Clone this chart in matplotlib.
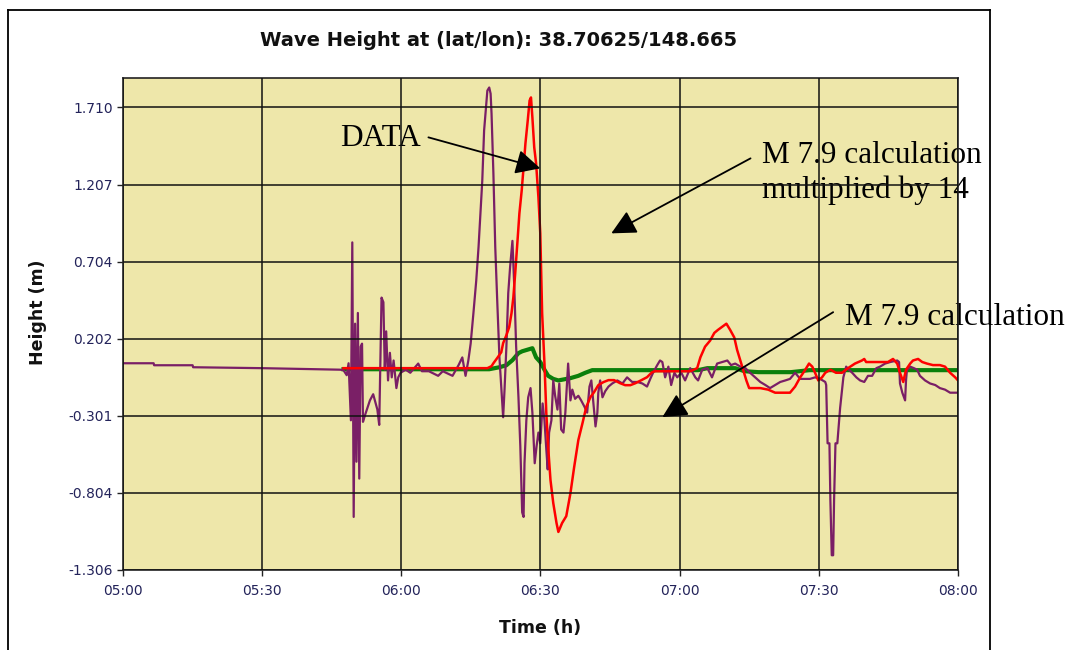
import matplotlib.pyplot as plt
from matplotlib.lines import Line2D

# time in minutes after 05:00, height in metres
purple_t = [0, 6.7, 6.8, 15.1, 15.2, 30, 46.9, 47.6, 48.3, 48.7, 49.2, 49.5, 49.8, 50.1,
            50.4, 50.7, 51.0, 51.3, 51.6, 51.8, 52.2, 53.3, 54.0, 54.9, 55.3, 55.8, 56.2,
            56.5, 56.8, 57.2, 57.6, 58.0, 58.4, 59.0, 59.4, 59.9, 61, 62, 63.7, 64.5, 66,
            68, 69, 71.1, 72.4, 73.2, 73.9, 74.5, 75.0, 75.6, 76.2, 76.7, 77.1, 77.5, 77.9,
            78.6, 79.0, 79.3, 79.5, 79.9, 80.3, 80.7, 81.2, 81.6, 82.0, 82.3, 82.7, 83.1,
            83.5, 84.0, 84.4, 84.8, 85.3, 85.7, 86.1, 86.4, 86.6, 87.0, 87.4, 87.9, 88.3,
            88.8, 89.2, 89.6, 90.0, 90.5, 90.9, 91.3, 91.6, 91.9, 92.4, 92.8, 93.2, 93.7,
            94.1, 94.5, 95.0, 95.4, 95.8, 96.0, 96.5, 96.9, 97.5, 98.2, 98.8, 99.5, 100.1,
            100.6, 101.0, 101.4, 101.9, 102.3, 102.5, 102.9, 103.4, 104.0, 104.7, 105.5,
            106.6, 107.7, 108.7, 109.8, 110.9, 112.0, 113.0, 113.7, 114.3, 115.2, 115.8,
            116.3, 116.9, 117.6, 118.2, 118.9, 119.5, 120.4, 121.2, 122.3, 123.4, 124.0,
            124.9, 126.0, 127.0, 128.1, 129.2, 130.3, 131.1, 132.0, 133.1, 134.2, 135.2,
            136.3, 137.4, 138.5, 139.5, 140.6, 141.7, 142.8, 143.8, 144.9, 146.0, 148.1,
            149.2, 150.3, 151.4, 151.6, 151.9, 152.3, 152.5, 152.8, 153.1, 153.3, 153.6,
            154.0, 154.6, 155.3, 155.9, 156.5, 157.2, 158.1, 158.9, 159.8, 160.6, 161.5,
            162.4, 163.2, 164.3, 165.4, 166.9, 167.3, 167.5, 168.0, 168.6, 168.8, 169.0,
            169.7, 170.5, 171.2, 171.8, 172.9, 174.0, 175.1, 176.1, 177.2, 178.3, 180.0]
purple_h = [0.042, 0.042, 0.029, 0.029, 0.016, 0.010, 0.000, -0.003, -0.036, 0.042, -0.33,
            0.83, -0.96, 0.30, -0.60, 0.37, -0.71, 0.15, 0.17, -0.34, -0.30, -0.20, -0.16,
            -0.26, -0.36, 0.47, 0.44, 0.00, 0.25, -0.07, 0.11, -0.05, 0.06, -0.12, -0.05,
            -0.02, 0.00, -0.02, 0.04, -0.01, -0.01, -0.04, -0.01, -0.04, 0.03, 0.08, -0.04,
            0.06, 0.17, 0.37, 0.58, 0.80, 1.02, 1.23, 1.56, 1.82, 1.84, 1.80, 1.67, 1.28,
            0.80, 0.47, 0.08, -0.11, -0.31, -0.13, 0.15, 0.50, 0.67, 0.84, 0.54, 0.15,
            -0.18, -0.50, -0.93, -0.96, -0.61, -0.33, -0.18, -0.12, -0.28, -0.61, -0.50,
            -0.41, -0.48, -0.22, -0.33, -0.52, -0.65, -0.41, -0.33, -0.07, -0.17, -0.26,
            -0.09, -0.39, -0.41, -0.28, -0.07, 0.04, -0.20, -0.13, -0.19, -0.17, -0.20,
            -0.24, -0.28, -0.11, -0.07, -0.20, -0.37, -0.28, -0.15, -0.07, -0.18, -0.14,
            -0.11, -0.09, -0.07, -0.09, -0.05, -0.08, -0.08, -0.09, -0.11, -0.06, -0.02,
            0.03, 0.06, 0.05, -0.05, 0.02, -0.10, -0.02, -0.05, -0.02, -0.07, 0.01, -0.05,
            -0.07, 0.00, 0.01, -0.05, 0.04, 0.05, 0.06, 0.03, 0.04, 0.02, 0.01, -0.02,
            -0.05, -0.08, -0.10, -0.12, -0.10, -0.08, -0.07, -0.06, -0.02, -0.06, -0.06,
            -0.05, -0.06, -0.08, -0.10, -0.48, -0.48, -0.85, -1.21, -1.21, -0.85, -0.48,
            -0.48, -0.25, -0.05, 0.02, 0.00, -0.02, -0.05, -0.07, -0.08, -0.04, -0.04,
            0.01, 0.02, 0.04, 0.05, 0.06, 0.05, -0.09, -0.15, -0.20, -0.07, 0.00, 0.02,
            0.01, 0.00, -0.04, -0.07, -0.09, -0.10, -0.12, -0.13, -0.15, -0.15]

red_t = [47.6, 78.6, 79.5, 79.9, 80.7, 81.6, 82.0, 82.7, 83.3, 83.8, 84.2, 84.6, 85.1, 85.5,
         86.0, 86.4, 86.8, 87.3, 87.7, 88.0, 88.3, 88.7, 89.1, 89.6, 90.0, 90.4, 90.9,
         91.3, 91.7, 92.2, 92.8, 93.5, 93.9, 94.7, 95.6, 96.5, 97.3, 98.2, 99.1, 99.9,
         100.8, 101.6, 102.5, 103.6, 104.7, 105.9, 107.2, 108.3, 109.4, 110.5, 111.8,
         113.0, 114.1, 114.8, 118.0, 122.3, 123.8, 124.5, 125.5, 126.6, 127.5, 128.3,
         129.2, 130.1, 130.9, 131.8, 132.4, 133.1, 133.7, 134.4, 135.0, 137.4, 139.1,
         140.6, 143.8, 144.9, 146.0, 147.1, 147.9, 148.6, 149.2, 149.9, 150.7, 151.4,
         152.5, 153.7, 155.0, 156.3, 157.8, 159.3, 159.8, 160.2, 161.5, 163.2, 164.9,
         166.0, 166.9, 167.5, 168.2, 168.8, 169.7, 170.3, 171.4, 172.3, 173.3, 174.6,
         176.1, 177.2, 178.3, 179.4, 180.0]
red_h = [0.010, 0.010, 0.023, 0.042, 0.075, 0.114, 0.173, 0.225, 0.277, 0.368, 0.472, 0.629,
         0.843, 1.019, 1.169, 1.319, 1.475, 1.625, 1.755, 1.775, 1.645, 1.449, 1.345, 1.124,
         0.889, 0.368, 0.042, -0.283, -0.505, -0.720, -0.870, -1.000, -1.058, -1.000,
         -0.955, -0.805, -0.635, -0.459, -0.348, -0.244, -0.179, -0.146, -0.101, -0.081,
         -0.068, -0.068, -0.088, -0.101, -0.101, -0.088, -0.068, -0.049, -0.016, -0.010,
         -0.010, -0.010, 0.010, 0.081, 0.15, 0.19, 0.24, 0.26, 0.28, 0.30, 0.26, 0.21,
         0.13, 0.06, 0.00, -0.07, -0.12, -0.12, -0.13, -0.15, -0.15, -0.11, -0.05, 0.00,
         0.04, 0.02, -0.02, -0.07, -0.05, -0.02, 0.00, -0.02, -0.02, 0.01, 0.04, 0.06,
         0.07, 0.05, 0.05, 0.05, 0.05, 0.07, 0.04, -0.02, -0.08, 0.00, 0.04, 0.06, 0.07,
         0.05, 0.04, 0.03, 0.03, 0.02, -0.02, -0.05, -0.07]

green_t = [47.6, 79.0, 81.2, 82.7, 84.0, 85.3, 86.1, 88.3, 89.1, 90.0, 90.9, 91.7, 92.8,
           93.9, 96.5, 98.2, 99.7, 101.2, 124.0, 126.0, 132.0, 134.0, 137.0, 144.0, 148.0,
           180.0]
green_h = [0.003, 0.003, 0.016, 0.029, 0.062, 0.108, 0.12, 0.14, 0.08, 0.05, 0.00, -0.04,
           -0.06, -0.07, -0.055, -0.04, -0.02, -0.003, -0.003, 0.01, 0.01, -0.01, -0.016,
           -0.016, -0.003, -0.003]

y_ticks = [1.710, 1.207, 0.704, 0.202, -0.301, -0.804, -1.306]
x_ticks = [0, 30, 60, 90, 120, 150, 180]
x_labels = ['05:00', '05:30', '06:00', '06:30', '07:00', '07:30', '08:00']

fig = plt.figure(figsize=(10.74, 6.5), dpi=100)
ax = fig.add_axes([0.1141, 0.1231, 0.7779, 0.7569])
ax.set_facecolor('#EEE7AA')

ax.plot(green_t, green_h, color='#0B800B', lw=3.0, zorder=2)
ax.plot(purple_t, purple_h, color='#7A1F66', lw=1.6, zorder=2.1)
ax.plot(red_t, red_h, color='#FF0000', lw=1.8, zorder=2.2)

ax.set_xlim(0, 180)
ax.set_ylim(-1.306, 1.902)
ax.set_xticks(x_ticks)
ax.set_xticklabels(x_labels)
ax.set_yticks(y_ticks)
ax.set_yticklabels(['%.3f' % v for v in y_ticks])
ax.tick_params(length=4, width=1, color='#222222', labelsize=10, labelcolor='#23235a')
ax.tick_params(axis='x', pad=6)
ax.tick_params(axis='y', pad=3)

# grid sits on top of the data lines
ax.set_axisbelow(False)
ax.grid(True, color='#111111', lw=1.1)
for s in ax.spines.values():
    s.set_color('#222222')
    s.set_linewidth(1.2)

fig.text(0.464, 0.938, 'Wave Height at (lat/lon): 38.70625/148.665',
         ha='center', va='center', fontsize=14, fontweight='bold', color='#111111')
fig.text(0.0354, 0.52, 'Height (m)', rotation=90, ha='center', va='center',
         fontsize=12.5, fontweight='bold', color='#111111')
fig.text(0.503, 0.034, 'Time (h)', ha='center', va='center',
         fontsize=12.5, fontweight='bold', color='#111111')

# annotations (text sits under the grid, like the pasted original)
serif = 'Liberation Serif'
ax.text(46.9, 1.456, 'DATA', family=serif, fontsize=22.5, zorder=2.3, clip_on=False)
ax.text(137.8, 1.345, 'M 7.9 calculation', family=serif, fontsize=22.5, zorder=2.3,
        clip_on=False)
ax.text(137.8, 1.117, 'multiplied by 14', family=serif, fontsize=22.5, zorder=2.3,
        clip_on=False)
ax.text(155.7, 0.290, 'M 7.9 calculation', family=serif, fontsize=22.5, zorder=2.3,
        clip_on=False)

arrow = dict(arrowstyle='-|>,head_length=0.5,head_width=0.25', mutation_scale=30,
             color='black', lw=1.3, shrinkA=0, shrinkB=0)
ax.annotate('', xy=(90.0, 1.313), xytext=(65.9, 1.515), arrowprops=arrow, zorder=3)
ax.annotate('', xy=(105.3, 0.889), xytext=(135.3, 1.378), arrowprops=arrow, zorder=3)
ax.annotate('', xy=(116.3, -0.309), xytext=(153.1, 0.375), arrowprops=arrow, zorder=3)

# outer frame of the pasted picture
for xs, ys in [([0.0075, 0.0075], [0.0, 0.9846]),
               ([0.0075, 0.9218], [0.9846, 0.9846]),
               ([0.9218, 0.9218], [0.0, 0.9846])]:
    fig.add_artist(Line2D(xs, ys, transform=fig.transFigure, color='black', lw=1.3))

plt.savefig('out.png', dpi=100)
